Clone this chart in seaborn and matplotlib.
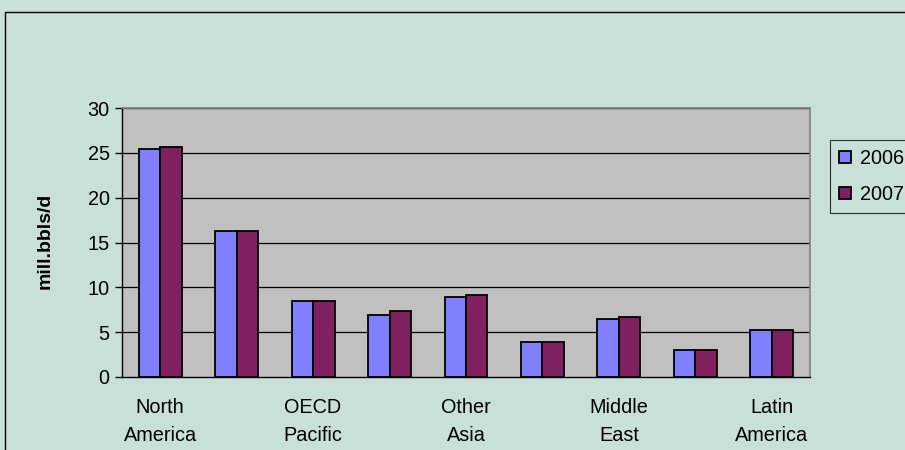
import matplotlib
matplotlib.use("Agg")
import matplotlib.pyplot as plt
import seaborn as sns
import pandas as pd
from matplotlib.patches import Rectangle

regions = ["North America", "OECD Europe", "OECD Pacific", "China", "Other Asia",
           "Former Soviet Union", "Middle East", "Africa", "Latin America"]
tick_labels = ["North\nAmerica", "", "OECD\nPacific", "", "Other\nAsia", "",
               "Middle\nEast", "", "Latin\nAmerica"]
years = ["2006", "2007"]
demand_2006 = [25.4, 16.3, 8.5, 6.9, 8.9, 3.9, 6.5, 3.0, 5.2]
demand_2007 = [25.6, 16.3, 8.5, 7.4, 9.1, 3.9, 6.7, 3.0, 5.2]

df = pd.DataFrame({
    "region": regions * 2,
    "year": [years[0]] * len(regions) + [years[1]] * len(regions),
    "value": demand_2006 + demand_2007,
})

sns.set_theme(style="white")
plt.rcParams["font.family"] = ["Liberation Sans", "DejaVu Sans"]
plt.rcParams["text.color"] = "black"
plt.rcParams["xtick.color"] = "black"
plt.rcParams["ytick.color"] = "black"
plt.rcParams["axes.labelcolor"] = "black"

FS = 14.3
W, H = 905, 450
fig = plt.figure(figsize=(W / 100, H / 100), dpi=100)
bg = "#C9E0D9"
fig.patch.set_facecolor(bg)
fig.patches.append(Rectangle((5 / W, -0.1), 1.2, 1 - 12 / H + 0.1, transform=fig.transFigure,
                             fill=False, edgecolor="black", linewidth=1.0))

left, right, top, bottom = 122, 810, 108, 377
ax = fig.add_axes([left / W, 1 - bottom / H, (right - left) / W, (bottom - top) / H])
ax.set_facecolor("#C0C0C0")

sns.barplot(data=df, x="region", y="value", hue="year", order=regions,
            palette=["#8080FF", "#802060"], width=0.56, edgecolor="black",
            linewidth=1.3, ax=ax, zorder=3, saturation=1)

ax.set_ylim(0, 30)
ax.set_xlim(-0.5, len(regions) - 0.5)
ax.set_yticks(range(0, 31, 5))
ax.set_yticklabels([str(v) for v in range(0, 31, 5)], fontsize=FS)
for v in range(5, 31, 5):
    ax.axhline(v, color="black", linewidth=0.9, zorder=1)

ax.set_xticks([i - 0.5 for i in range(len(regions) + 1)])
ax.set_xticklabels([])
ax.set_xticks(range(len(regions)), minor=True)
ax.set_xticklabels(tick_labels, minor=True, fontsize=FS, linespacing=1.62)
ax.tick_params(axis="x", which="minor", length=0, pad=15)
ax.tick_params(axis="x", which="major", length=5, width=1, color="black", direction="out")
ax.tick_params(axis="y", length=5, width=1, color="black", direction="out", left=True, pad=4)
ax.set_xlabel("")
ax.set_ylabel("mill.bbls/d", fontsize=14, fontweight="bold")
ax.yaxis.set_label_coords(54 / W, 1 - 240.5 / H, transform=fig.transFigure)

for s in ["top", "right"]:
    ax.spines[s].set_color("#808080")
    ax.spines[s].set_linewidth(1.2)
for s in ["left", "bottom"]:
    ax.spines[s].set_color("black")
    ax.spines[s].set_linewidth(1.0)

leg = ax.legend(loc="upper left", bbox_to_anchor=(830 / W, 1 - 140 / H), bbox_transform=fig.transFigure,
                frameon=True, fontsize=FS, handlelength=0.6, handleheight=0.6, handletextpad=0.45,
                labelspacing=0.85, borderpad=0.45, borderaxespad=0, fancybox=False, title=None)
leg.get_frame().set_facecolor(bg)
leg.get_frame().set_edgecolor("black")
leg.get_frame().set_linewidth(0.8)

fig.savefig("out.png", dpi=100, facecolor=bg)
